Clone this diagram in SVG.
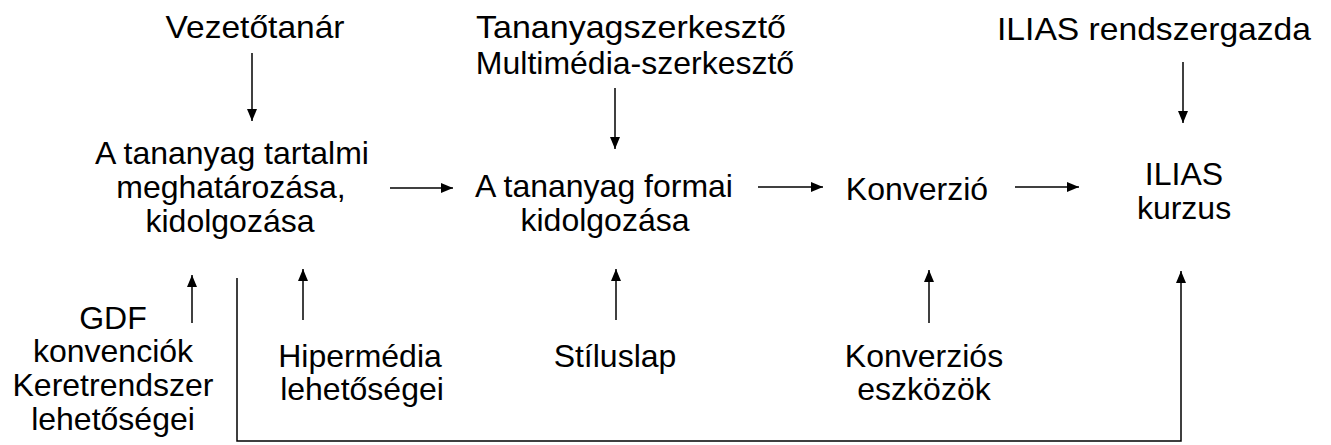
<svg xmlns="http://www.w3.org/2000/svg" width="1331" height="445" viewBox="0 0 1331 445">
<defs>
<marker id="ah" viewBox="0 0 12 10" refX="12" refY="5" markerWidth="12" markerHeight="10" markerUnits="userSpaceOnUse" orient="auto">
<path d="M0,0 L12,5 L0,10 Z" fill="#000"/>
</marker>
</defs>
<style>
text{font-family:"Liberation Sans",Arial,sans-serif;font-size:32px;fill:#000;text-anchor:middle}
.c{stroke:#000;stroke-width:1.5;fill:none}
.a{marker-end:url(#ah)}
</style>
<rect width="1331" height="445" fill="#fff"/>
<g id="vezetotanar"><text x="255" y="38" textLength="179" lengthAdjust="spacingAndGlyphs">Vezetőtanár</text></g>
<g id="szerkesztok"><text x="631" y="38" textLength="310" lengthAdjust="spacingAndGlyphs">Tananyagszerkesztő</text><text x="635" y="74">Multimédia-szerkesztő</text></g>
<g id="rendszergazda"><text x="1154" y="40" textLength="314" lengthAdjust="spacingAndGlyphs">ILIAS rendszergazda</text></g>
<g id="tartalmi"><text x="232" y="164">A tananyag tartalmi</text><text x="231" y="198">meghatározása,</text><text x="230" y="232">kidolgozása</text></g>
<g id="formai"><text x="604" y="197">A tananyag formai</text><text x="605" y="231">kidolgozása</text></g>
<g id="konverzio"><text x="917" y="200">Konverzió</text></g>
<g id="kurzus"><text x="1184" y="185">ILIAS</text><text x="1184" y="219">kurzus</text></g>
<g id="gdf"><text x="113" y="329">GDF</text><text x="113" y="362">konvenciók</text><text x="113" y="396">Keretrendszer</text><text x="113" y="430">lehetőségei</text></g>
<g id="hipermedia"><text x="360" y="367">Hipermédia</text><text x="362" y="400">lehetőségei</text></g>
<g id="stiluslap"><text x="615" y="367">Stíluslap</text></g>
<g id="konverzios"><text x="924" y="367">Konverziós</text><text x="924" y="400">eszközök</text></g>
<g id="connectors">
<line class="c a" x1="252" y1="53" x2="252" y2="121"/>
<line class="c a" x1="615" y1="88" x2="615" y2="149"/>
<line class="c a" x1="1183" y1="62" x2="1183" y2="123"/>
<line class="c a" x1="390" y1="188" x2="453" y2="188"/>
<line class="c a" x1="758" y1="187" x2="823" y2="187"/>
<line class="c a" x1="1015" y1="187" x2="1079" y2="187"/>
<line class="c a" x1="192" y1="323" x2="192" y2="275"/>
<line class="c a" x1="303" y1="320" x2="303" y2="269"/>
<line class="c a" x1="616" y1="320" x2="616" y2="269"/>
<line class="c a" x1="929" y1="323" x2="929" y2="270"/>
<polyline class="c a" points="237,278 237,441 1181,441 1181,271"/>
</g>
</svg>
